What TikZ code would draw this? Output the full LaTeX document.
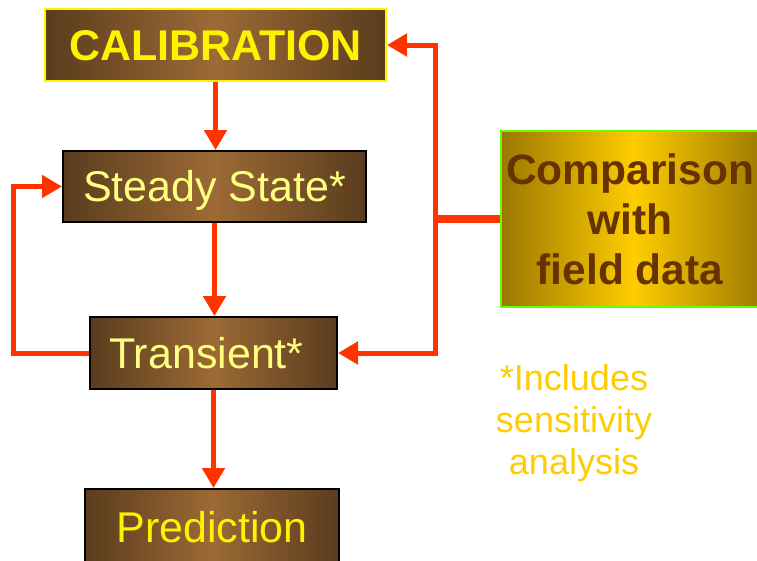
\documentclass[tikz,border=0pt]{standalone}
\usepackage{fontspec}
\setmainfont{Liberation Sans}
\usetikzlibrary{arrows.meta}
\definecolor{brdark}{HTML}{5A3C1E}
\definecolor{brmid}{HTML}{9C6A35}
\definecolor{golddark}{HTML}{9A7800}
\definecolor{goldmid}{HTML}{FFCC00}
\definecolor{arrred}{HTML}{FF3300}
\definecolor{paleyel}{HTML}{FFFF80}
\definecolor{cmptext}{HTML}{663300}
\definecolor{notecol}{HTML}{FFCC00}
\definecolor{limegr}{HTML}{66FF00}
\tikzset{
  brbox/.style={left color=brdark, right color=brdark, middle color=brmid,
    draw=black, line width=2pt, inner sep=0pt, text height=30.8pt, text depth=0pt,
    font=\fontsize{43}{48}\selectfont},
  arr/.style={draw=arrred, line width=5pt, -{Triangle[length=20pt,width=22pt]}},
}
\begin{document}
\begin{tikzpicture}[x=1pt,y=-1pt]
\useasboundingbox (0,0) rectangle (757,560);
\node[brbox, draw=yellow, minimum width=341pt, minimum height=72pt, text=yellow,
  font=\fontsize{43}{48}\selectfont\bfseries] (cal) at (215.5,45) {CALIBRATION};
\node[brbox, minimum width=303pt, minimum height=71pt, text=paleyel] (ss) at (214.5,186.5) {Steady State*};
\node[brbox, minimum width=247pt, minimum height=72pt, text=paleyel] (tr) at (213.5,353) {\hspace*{-14pt}Transient*};
\node[brbox, minimum width=254pt, minimum height=76pt, text=yellow] (pr) at (212,527) {Prediction};
\node[left color=golddark, right color=golddark, middle color=goldmid, draw=limegr, line width=2pt,
  minimum width=266pt, minimum height=176pt, inner sep=0pt, text=cmptext, align=center,
  font=\fontsize{42.5}{50}\selectfont\bfseries] (cmp) at (634,219) {\hspace*{-8pt}Comparison\\\hspace*{-8pt}with\\\hspace*{-8pt}field data};
\node[text=notecol, align=center, font=\fontsize{36}{42}\selectfont] (note) at (574,423) {*Includes\\sensitivity\\analysis};
\coordinate (j) at (435,219);
\draw[arr] (cal.south) -- (cal.south |- ss.north);
\draw[arr] (ss.south) -- (ss.south |- tr.north);
\draw[arr] (tr.south) -- (tr.south |- pr.north);
\draw[arr] (tr.west) -- ++(-76,0) |- (ss.west);
\draw[arr] (j) |- (cal.east);
\draw[arr] (j) |- (tr.east);
\draw[draw=arrred, line width=8pt] (cmp.west) -- ([xshift=-2.5pt]j);
\end{tikzpicture}
\end{document}
